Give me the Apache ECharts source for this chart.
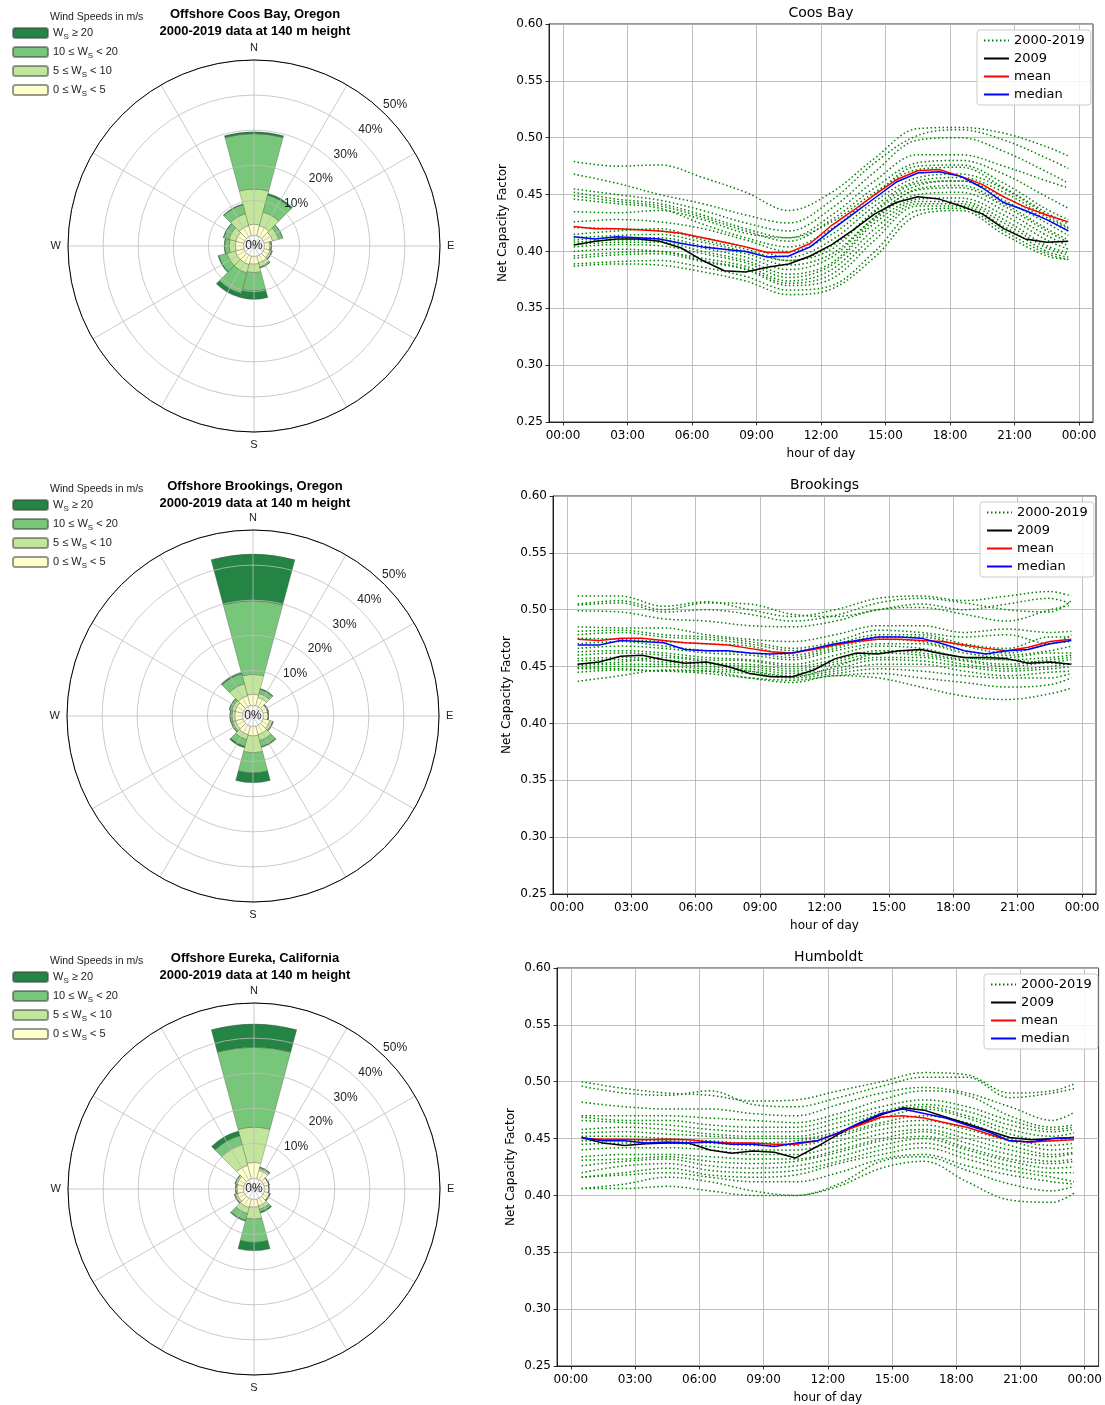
<!DOCTYPE html>
<html>
<head>
<meta charset="utf-8">
<script src="https://cdn.jsdelivr.net/npm/echarts@6/dist/echarts.min.js"></script>
<style>
html, body { margin: 0; padding: 0; background: #fff; }
#main { width: 1105px; height: 1405px; }
</style>
</head>
<body>
<div id="main"></div>
<script>
// wind rose sectors (30 degree bins, clockwise from north)
var dirs = ['N', '30', '60', 'E', '120', '150', 'S', '210', '240', 'W', '300', '330'];
var binLabels = ['0 ≤ W_S < 5', '5 ≤ W_S < 10', '10 ≤ W_S < 20', 'W_S ≥ 20'];
var binColors = ['#ffffcc', '#c2e699', '#78c679', '#238443'];

// percent of time per sector and speed bin
var coosCalm = [3.2, 3.0, 2.5, 1.5, 1.7, 2.0, 2.2, 2.5, 2.5, 2.3, 2.4, 3.0];
var coosLow  = [10.0, 4.0, 1.8, 0.4, 0.5, 1.2, 2.4, 2.5, 2.5, 1.8, 2.0, 3.5];
var coosMid  = [15.8, 5.0, 1.2, 0.1, 0.2, 0.3, 5.2, 6.0, 2.4, 1.3, 1.6, 2.7];
var coosHigh = [0.5, 0.5, 0, 0, 0, 0, 2.4, 1.2, 0.2, 0.1, 0.1, 0.2];

var brookCalm = [3.2, 2.5, 1.3, 1.3, 2.0, 2.5, 2.7, 2.5, 2.2, 2.2, 2.3, 3.0];
var brookLow  = [5.7, 1.2, 0.2, 0.1, 0.8, 1.8, 4.8, 1.5, 0.8, 0.8, 1.0, 3.5];
var brookMid  = [20.9, 1.2, 0.1, 0, 0.2, 1.8, 5.7, 2.0, 0.5, 0.6, 0.7, 3.0];
var brookHigh = [13.3, 0.2, 0, 0, 0, 0.2, 2.8, 0.4, 0, 0, 0.05, 0.3];

var eurCalm = [4.6, 2.5, 1.4, 1.2, 1.5, 2.0, 2.2, 2.5, 2.0, 1.8, 2.0, 4.0];
var eurLow  = [10.0, 0.6, 0.1, 0.1, 0.2, 1.0, 3.4, 1.8, 0.6, 0.4, 0.5, 6.0];
var eurMid  = [22.8, 0.3, 0, 0, 0.1, 0.8, 6.6, 2.0, 0.2, 0.1, 0.1, 2.7];
var eurHigh = [6.6, 0.1, 0, 0, 0, 0.3, 2.4, 0.2, 0, 0, 0, 1.4];

// hour of day
var hoursFull = [0.5, 1.5, 2.5, 3.5, 4.5, 5.5, 6.5, 7.5, 8.5, 9.5, 10.5, 11.5,
                 12.5, 13.5, 14.5, 15.5, 16.5, 17.5, 18.5, 19.5, 20.5, 21.5, 22.5, 23.5];
var hoursYear = [0.5, 2.5, 4.5, 6.5, 8.5, 10.5, 12.5, 14.5, 16.5, 18.5, 20.5, 22.5, 23.5];
var hourTicks = [0, 3, 6, 9, 12, 15, 18, 21, 24];

// Coos Bay
var coos2009   = [.4056, .409, .411, .411, .409, .403, .392, .383, .382, .386, .389, .396,
                  .406, .419, .433, .443, .448, .446, .440, .433, .420, .411, .408, .409];
var coosMean   = [.422, .420, .420, .419, .418, .416, .412, .408, .404, .399, .399, .407,
                  .423, .436, .450, .463, .471, .472, .466, .459, .448, .439, .432, .426];
var coosMedian = [.413, .411, .413, .412, .411, .407, .404, .402, .400, .395, .396, .404,
                  .419, .433, .447, .461, .469, .470, .466, .456, .443, .436, .428, .418];
var coosYears = [
  [.479, .475, .476, .465, .452, .436, .452, .482, .508, .509, .504, .492, .484],
  [.468, .460, .450, .442, .432, .425, .445, .478, .502, .507, .498, .482, .473],
  [.455, .450, .445, .436, .425, .418, .438, .470, .498, .500, .488, .470, .460],
  [.452, .446, .442, .432, .420, .412, .432, .462, .485, .485, .475, .462, .456],
  [.449, .444, .440, .430, .418, .409, .428, .456, .478, .480, .468, .448, .438],
  [.446, .442, .438, .424, .412, .404, .420, .450, .475, .476, .460, .437, .428],
  [.435, .434, .436, .428, .416, .412, .426, .452, .472, .474, .456, .434, .424],
  [.426, .428, .426, .420, .410, .400, .415, .444, .465, .468, .455, .432, .421],
  [.421, .420, .418, .412, .404, .395, .410, .440, .462, .465, .452, .430, .420],
  [.415, .418, .420, .410, .402, .392, .405, .435, .458, .462, .448, .428, .418],
  [.412, .414, .415, .408, .400, .392, .402, .436, .460, .462, .445, .425, .414],
  [.410, .412, .412, .405, .398, .388, .398, .430, .455, .458, .442, .420, .410],
  [.408, .410, .410, .403, .395, .384, .395, .430, .454, .456, .440, .418, .408],
  [.406, .408, .408, .400, .392, .380, .390, .428, .450, .452, .436, .414, .405],
  [.404, .406, .405, .398, .390, .377, .388, .425, .446, .447, .432, .410, .402],
  [.400, .402, .400, .394, .387, .374, .384, .420, .444, .444, .428, .405, .399],
  [.396, .399, .400, .392, .385, .372, .380, .415, .442, .442, .425, .403, .397],
  [.394, .397, .398, .391, .384, .370, .376, .410, .440, .440, .422, .400, .395],
  [.389, .391, .392, .386, .378, .366, .370, .400, .436, .438, .418, .398, .393],
  [.387, .389, .388, .382, .374, .362, .367, .395, .432, .436, .415, .396, .393]
];

// Brookings
var brook2009   = [.452, .454, .459, .460, .456, .453, .454, .450, .444, .441, .441, .447,
                   .457, .462, .461, .464, .465, .461, .458, .458, .457, .453, .454, .452];
var brookMean   = [.474, .473, .475, .475, .473, .471, .470, .469, .466, .463, .462, .465,
                   .469, .472, .474, .474, .473, .472, .469, .466, .464, .467, .472, .474];
var brookMedian = [.469, .469, .473, .472, .471, .465, .464, .464, .462, .461, .462, .466,
                   .470, .473, .476, .476, .475, .470, .464, .461, .464, .465, .470, .473];
var brookYears = [
  [.512, .512, .503, .507, .500, .494, .500, .510, .512, .508, .512, .516, .512],
  [.505, .508, .500, .506, .505, .496, .494, .500, .505, .500, .505, .510, .505],
  [.504, .506, .498, .500, .496, .490, .495, .506, .510, .506, .500, .498, .508],
  [.499, .498, .492, .490, .486, .485, .490, .500, .502, .496, .490, .500, .504],
  [.485, .484, .484, .478, .474, .472, .478, .486, .486, .480, .483, .480, .481],
  [.481, .482, .478, .476, .472, .466, .472, .482, .480, .476, .478, .470, .478],
  [.478, .480, .476, .474, .470, .464, .470, .478, .478, .470, .466, .476, .476],
  [.475, .474, .472, .470, .468, .460, .468, .476, .476, .468, .462, .470, .472],
  [.470, .472, .468, .464, .462, .458, .466, .474, .472, .464, .460, .464, .468],
  [.466, .468, .466, .462, .460, .456, .464, .470, .470, .462, .458, .462, .462],
  [.463, .464, .462, .458, .456, .452, .460, .468, .466, .458, .456, .458, .460],
  [.460, .462, .460, .456, .455, .450, .456, .464, .462, .456, .452, .456, .458],
  [.457, .458, .456, .453, .452, .448, .454, .462, .460, .455, .450, .454, .456],
  [.455, .456, .454, .452, .450, .446, .452, .458, .458, .452, .448, .450, .453],
  [.452, .454, .458, .454, .446, .441, .450, .462, .464, .458, .456, .453, .452],
  [.451, .452, .452, .450, .448, .444, .448, .456, .455, .450, .446, .448, .450],
  [.449, .450, .450, .448, .446, .442, .446, .452, .452, .446, .442, .445, .446],
  [.448, .448, .446, .446, .444, .440, .444, .448, .446, .442, .440, .440, .444],
  [.445, .447, .446, .444, .440, .438, .442, .444, .440, .436, .432, .434, .440],
  [.437, .442, .447, .446, .440, .436, .442, .440, .432, .424, .421, .426, .431]
];

// Humboldt
var humb2009   = [.451, .446, .444, .4455, .446, .446, .440, .437, .439, .438, .433, .443,
                  .454, .463, .471, .477, .475, .469, .463, .457, .451, .449, .450, .451];
var humbMean   = [.450, .4495, .4495, .449, .4495, .449, .447, .446, .446, .445, .445, .448,
                  .455, .462, .469, .470, .468, .464, .460, .454, .448, .447, .448, .449];
var humbMedian = [.451, .448, .448, .446, .447, .446, .447, .445, .445, .443, .446, .448,
                  .455, .464, .472, .476, .472, .468, .462, .456, .448, .447, .450, .451];
var humbYears = [
  [.500, .494, .490, .488, .483, .484, .492, .500, .508, .506, .490, .492, .498],
  [.496, .490, .488, .492, .480, .478, .486, .496, .504, .504, .486, .490, .494],
  [.482, .478, .476, .476, .472, .470, .480, .490, .495, .490, .478, .466, .473],
  [.470, .470, .470, .468, .466, .464, .472, .484, .492, .488, .470, .460, .462],
  [.469, .466, .466, .462, .460, .460, .468, .478, .484, .478, .466, .458, .460],
  [.466, .464, .462, .458, .456, .456, .464, .474, .480, .474, .462, .456, .458],
  [.458, .460, .458, .454, .452, .452, .460, .472, .478, .470, .458, .452, .455],
  [.455, .456, .454, .452, .450, .450, .456, .468, .476, .468, .454, .448, .451],
  [.452, .452, .450, .448, .446, .448, .454, .464, .470, .464, .450, .444, .446],
  [.448, .448, .448, .446, .444, .444, .452, .462, .466, .458, .448, .440, .442],
  [.445, .446, .446, .443, .440, .440, .448, .458, .462, .454, .444, .436, .438],
  [.440, .442, .442, .440, .436, .436, .444, .454, .458, .450, .440, .434, .437],
  [.434, .436, .436, .434, .432, .432, .440, .450, .456, .446, .436, .430, .432],
  [.431, .432, .434, .430, .428, .430, .438, .448, .452, .442, .432, .428, .430],
  [.426, .430, .432, .426, .424, .426, .434, .444, .450, .440, .430, .424, .425],
  [.420, .426, .428, .422, .420, .422, .430, .440, .446, .436, .426, .420, .420],
  [.416, .420, .424, .418, .416, .418, .428, .436, .442, .432, .422, .416, .412],
  [.416, .418, .420, .416, .412, .412, .420, .432, .436, .426, .418, .412, .410],
  [.406, .410, .416, .412, .404, .400, .410, .430, .434, .422, .410, .404, .408],
  [.406, .406, .408, .404, .400, .400, .408, .424, .430, .412, .396, .394, .402]
];

var ROSE_FONT = 'Liberation Sans';
var LINE_FONT = 'DejaVu Sans';

var roseRows = [
  { title: 'Offshore Coos Bay, Oregon', cx: 254, cy: 246, y0: 0, bins: [coosCalm, coosLow, coosMid, coosHigh] },
  { title: 'Offshore Brookings, Oregon', cx: 253, cy: 716, y0: 472, bins: [brookCalm, brookLow, brookMid, brookHigh] },
  { title: 'Offshore Eureka, California', cx: 254, cy: 1189, y0: 944, bins: [eurCalm, eurLow, eurMid, eurHigh] }
];

var lineRows = [
  { title: 'Coos Bay', left: 549, top: 24, width: 544, years: coosYears, y2009: coos2009, mean: coosMean, median: coosMedian, legLeft: 977, legTop: 30 },
  { title: 'Brookings', left: 553, top: 496, width: 543, years: brookYears, y2009: brook2009, mean: brookMean, median: brookMedian, legLeft: 980, legTop: 502 },
  { title: 'Humboldt', left: 557, top: 968, width: 543, years: humbYears, y2009: humb2009, mean: humbMean, median: humbMedian, legLeft: 984, legTop: 974 }
];

function pairs(xs, ys) {
  return xs.map(function (x, i) { return [x, ys[i]]; });
}
function hourLabel(v) {
  if (v % 3 !== 0) return '';
  var h = v % 24;
  return (h < 10 ? '0' : '') + h + ':00';
}

var polar = [], angleAxis = [], radiusAxis = [], grid = [], xAxis = [], yAxis = [];
var legend = [], series = [], graphic = [];

roseRows.forEach(function (r, p) {
  var base = p * 3;
  // data polar
  polar.push({ center: [r.cx, r.cy], radius: 186 });
  angleAxis.push({
    polarIndex: base, type: 'category', data: dirs, startAngle: 105, clockwise: true,
    axisLine: { show: false }, axisTick: { show: false }, axisLabel: { show: false }, splitLine: { show: false }
  });
  radiusAxis.push({
    polarIndex: base, type: 'value', min: -3, max: 50,
    axisLine: { show: false }, axisTick: { show: false }, axisLabel: { show: false }, splitLine: { show: false }
  });
  // grid polar: spokes, rings, compass labels
  polar.push({ center: [r.cx, r.cy], radius: 186 });
  angleAxis.push({
    polarIndex: base + 1, type: 'value', min: 0, max: 360, interval: 30, startAngle: 90, clockwise: true, z: 5,
    axisLine: { lineStyle: { color: '#000', width: 1 } },
    axisTick: { show: false },
    axisLabel: {
      margin: 7, fontSize: 11, color: '#222', fontFamily: ROSE_FONT,
      formatter: function (v) { return { 0: 'N', 90: 'E', 180: 'S', 270: 'W' }[v] || ''; }
    },
    splitLine: { lineStyle: { color: '#bdbdbd', width: 0.8 } }
  });
  radiusAxis.push({
    polarIndex: base + 1, type: 'value', min: -3, max: 50, minInterval: 10, maxInterval: 10, z: 5,
    axisLine: { show: false }, axisTick: { show: false }, axisLabel: { show: false },
    splitLine: { lineStyle: { color: '#bdbdbd', width: 0.8 } }
  });
  // percentage labels along the 45 degree ray
  polar.push({ center: [r.cx, r.cy], radius: 199.5 });
  angleAxis.push({
    polarIndex: base + 2, type: 'value', min: 0, max: 360, startAngle: 45, clockwise: true,
    axisLine: { show: false }, axisTick: { show: false }, axisLabel: { show: false }, splitLine: { show: false }
  });
  radiusAxis.push({
    polarIndex: base + 2, type: 'value', min: -7, max: 50, minInterval: 10, maxInterval: 10, z: 6,
    axisLine: { show: false }, axisTick: { show: false }, splitLine: { show: false },
    axisLabel: {
      margin: 0, align: 'center', verticalAlign: 'middle', fontSize: 12, color: '#222', fontFamily: ROSE_FONT,
      formatter: function (v) { return v < 0 ? '0%' : (v === 0 ? '' : v + '%'); }
    }
  });

  r.bins.forEach(function (vals, b) {
    series.push({
      type: 'bar', coordinateSystem: 'polar', polarIndex: base, name: binLabels[b],
      stack: 'rose' + p, data: vals, barCategoryGap: '0%',
      itemStyle: { color: binColors[b], borderColor: 'rgba(70,70,70,0.55)', borderWidth: 0.6 }
    });
  });

  legend.push({
    data: binLabels.slice().reverse(), orient: 'vertical', left: 12, top: r.y0 + 25,
    itemWidth: 35, itemHeight: 10, itemGap: 3, padding: 0, selectedMode: false,
    formatter: function (name) { return name.replace('W_S', 'W{sub|S}'); },
    textStyle: {
      fontFamily: ROSE_FONT, fontSize: 11, lineHeight: 16, color: '#222',
      rich: { sub: { fontFamily: ROSE_FONT, fontSize: 8, lineHeight: 8, verticalAlign: 'bottom', color: '#222' } }
    }
  });

  graphic.push({
    type: 'text', x: 255, y: r.y0 + 6,
    style: {
      text: r.title + '\n2000-2019 data at 140 m height', fill: '#000',
      fontFamily: ROSE_FONT, fontWeight: 'bold', fontSize: 13, lineHeight: 17, textAlign: 'center'
    }
  });
  graphic.push({
    type: 'text', x: 50, y: r.y0 + 12,
    style: { text: 'Wind Speeds in m/s', fill: '#222', fontFamily: ROSE_FONT, fontSize: 10.5 }
  });
});

lineRows.forEach(function (c, k) {
  grid.push({ left: c.left, top: c.top, width: c.width, height: 398, show: true, borderColor: '#000', borderWidth: 0.8 });
  xAxis.push({
    gridIndex: k, type: 'value', min: -0.65, max: 24.65, minInterval: 3, maxInterval: 3,
    name: 'hour of day', nameLocation: 'middle', nameGap: 26,
    nameTextStyle: { fontFamily: LINE_FONT, fontSize: 12, color: '#000' },
    axisLine: { onZero: false, lineStyle: { color: '#000', width: 0.8 } },
    axisTick: { length: 3.5, customValues: hourTicks, lineStyle: { color: '#000', width: 0.8 } },
    axisLabel: { customValues: hourTicks, formatter: hourLabel, margin: 8, fontSize: 12, color: '#000', fontFamily: LINE_FONT },
    splitLine: { show: true, lineStyle: { color: '#b0b0b0', width: 0.8 } }
  });
  yAxis.push({
    gridIndex: k, type: 'value', min: 0.25, max: 0.60, interval: 0.05,
    name: 'Net Capacity Factor', nameLocation: 'middle', nameGap: 40,
    nameTextStyle: { fontFamily: LINE_FONT, fontSize: 12, color: '#000' },
    axisLine: { show: true, onZero: false, lineStyle: { color: '#000', width: 0.8 } },
    axisTick: { show: true, length: 3.5, lineStyle: { color: '#000', width: 0.8 } },
    axisLabel: { formatter: function (v) { return v.toFixed(2); }, margin: 6, fontSize: 12, color: '#000', fontFamily: LINE_FONT },
    splitLine: { show: true, lineStyle: { color: '#b0b0b0', width: 0.8 } }
  });

  c.years.forEach(function (ys) {
    series.push({
      type: 'line', xAxisIndex: k, yAxisIndex: k, name: '2000-2019', data: pairs(hoursYear, ys),
      smooth: 0.35, symbol: 'none', z: 2,
      lineStyle: { color: '#008000', width: 1.5, type: [1.5, 2.5] }, itemStyle: { color: '#008000' }
    });
  });
  [['2009', c.y2009, '#000000'], ['mean', c.mean, '#ff0000'], ['median', c.median, '#0000ff']].forEach(function (s) {
    series.push({
      type: 'line', xAxisIndex: k, yAxisIndex: k, name: s[0], data: pairs(hoursFull, s[1]),
      symbol: 'none', z: 3, lineStyle: { color: s[2], width: 1.5 }, itemStyle: { color: s[2] }
    });
  });

  legend.push({
    data: ['2000-2019', '2009', 'mean', 'median'], orient: 'vertical', left: c.legLeft, top: c.legTop,
    itemWidth: 25, itemHeight: 13, itemGap: 5, padding: [4, 6, 4, 6], selectedMode: false,
    itemStyle: { opacity: 0 },
    backgroundColor: 'rgba(255,255,255,0.85)', borderColor: '#cccccc', borderWidth: 1, borderRadius: 3,
    textStyle: { fontFamily: LINE_FONT, fontSize: 13, lineHeight: 13, color: '#000' }
  });

  graphic.push({
    type: 'text', x: c.left + c.width / 2, y: c.top - 18,
    style: { text: c.title, fill: '#000', fontFamily: LINE_FONT, fontSize: 14, textAlign: 'center' }
  });
});

var chart = echarts.init(document.getElementById('main'));
chart.setOption({
  animation: false,
  backgroundColor: '#fff',
  textStyle: { fontFamily: LINE_FONT },
  polar: polar,
  angleAxis: angleAxis,
  radiusAxis: radiusAxis,
  grid: grid,
  xAxis: xAxis,
  yAxis: yAxis,
  legend: legend,
  graphic: graphic,
  series: series
});
</script>
</body>
</html>
